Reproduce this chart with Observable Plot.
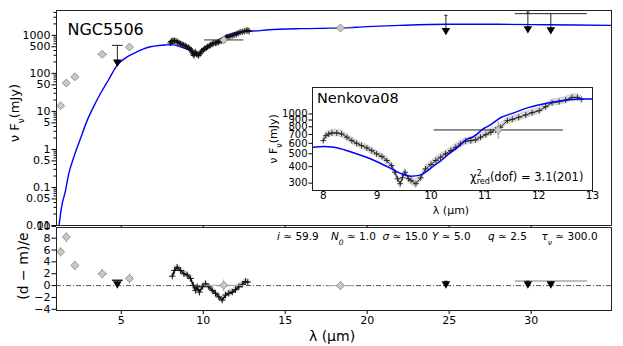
<!DOCTYPE html>
<html><head><meta charset="utf-8">
<script src="https://cdn.jsdelivr.net/npm/d3@7"></script>
<script src="https://cdn.jsdelivr.net/npm/@observablehq/plot@0.6"></script>
<style>
body{margin:0;background:#fff;}
#wrap{position:relative;width:623px;height:346px;font-family:"DejaVu Sans",sans-serif;overflow:hidden;}
</style></head><body><div id="wrap"></div>
<script>
// ---------- data ----------
const modelLam  = [1.18, 1.34, 1.6, 1.8, 2.11, 2.48, 2.93, 3.3, 3.74, 4.2, 4.76, 5.2, 5.77, 6.3, 6.79, 7.3, 7.8, 8.0, 8.2, 8.4, 8.71, 9.02, 9.27, 9.45, 9.63, 9.8, 9.9, 10.05, 10.15, 10.37, 10.46, 10.68, 10.77, 10.99, 11.08, 11.3, 11.51, 11.82, 12.13, 12.44, 12.75, 13.0, 14.0, 15.9, 18.4, 20, 22, 24.9, 28, 31, 34.9];
const modelFlux = [0.008, 0.0275, 0.083, 0.23, 0.63, 1.76, 5.9, 13, 30, 65, 165, 245, 336, 430, 500, 540, 560, 567, 560, 535, 485, 432, 385, 353, 339, 345, 363, 405, 432, 514, 545, 648, 667, 780, 816, 940, 1010, 1122, 1202, 1260, 1297, 1300, 1400, 1500, 1560, 1700, 1830, 1950, 1950, 1900, 1830];

const specLam  = [8.00, 8.05, 8.10, 8.16, 8.25, 8.34, 8.44, 8.53, 8.62, 8.71, 8.81, 8.90, 8.99, 9.09, 9.18, 9.27, 9.33, 9.38, 9.43, 9.47, 9.52, 9.58, 9.63, 9.72, 9.81, 9.90, 10.00, 10.09, 10.18, 10.27, 10.37, 10.46, 10.55, 10.64, 10.74, 10.83, 10.92, 11.02, 11.11, 11.20, 11.29, 11.42, 11.51, 11.63, 11.76, 11.88, 12.01, 12.13, 12.25, 12.38, 12.50, 12.62, 12.72, 12.80];
const specFlux = [629, 686, 705, 719, 719, 707, 667, 629, 600, 577, 554, 529, 500, 477, 445, 408, 363, 324, 297, 330, 363, 324, 314, 297, 329, 385, 415, 445, 471, 500, 529, 560, 594, 622, 629, 637, 667, 698, 727, 757, 793, 890, 911, 943, 983, 1023, 1059, 1135, 1217, 1238, 1275, 1334, 1334, 1288];
const specErr  = [42, 45, 46, 47, 47, 46, 44, 41, 39, 38, 36, 35, 33, 31, 29, 27, 26, 25, 25, 25, 26, 25, 24, 24, 25, 27, 29, 30, 31, 33, 35, 37, 39, 41, 41, 42, 44, 46, 48, 50, 52, 58, 59, 61, 64, 66, 69, 74, 79, 80, 83, 87, 87, 84];

const resLam = [8.11, 8.25, 8.41, 8.62, 8.82, 9.02, 9.23, 9.39, 9.53, 9.63, 9.77, 9.94, 10.14, 10.34, 10.55, 10.75, 10.95, 11.16, 11.36, 11.56, 11.77, 11.97, 12.17, 12.38, 12.58, 12.72];
const resVal = [1.6, 2.55, 3.1, 2.55, 2.0, 1.8, 1.2, 0.05, -0.8, -0.2, -1.1, -0.2, 0.3, -0.2, -0.8, -1.3, -1.9, -2.45, -1.6, -1.3, -1.1, -0.7, -0.2, 0.2, 0.7, 0.6];
const resErr = [0.6, 0.6, 0.6, 0.6, 0.6, 0.6, 0.6, 0.6, 0.6, 0.6, 0.6, 0.6, 0.6, 0.6, 0.6, 0.6, 0.6, 0.6, 0.6, 0.6, 0.6, 0.6, 0.6, 0.6, 0.6, 0.6];

const photLam  = [1.30, 1.65, 2.17, 3.84, 5.50, 11.25, 18.37];
const photFlux = [14.1, 55.7, 81, 316, 492, 757, 1556];
const photXerr = [0.05, 0.08, 0.1, 0.3, 0.1, 1.2, 0.8];
const photYlo  = [13, 52, 76, 300, 390, 648, 1480];
const photYhi  = [15.3, 60, 86, 335, 620, 880, 1640];
const photRes    = [5.7, 8.2, 3.4, 2.0, 1.2, 0.05, 0.0];
const photResErr = [0.8, 0.9, 0.8, 0.8, 0.9, 1.0, 0.8];

const ulLam    = [4.76, 24.8, 29.8, 31.2];
const ulTop    = [545, 3360, 4110, 3720];
const ulTip    = [200, 1350, 1500, 1412];
const ulXerr   = [0.33, 0.1, 0.1, 2.2];
const ulResTop = [0.9, 0.7, 0.8, 0.77];
const ulResTip = [0.0, 0.0, 0.0, 0.0];

const mainYTicks = [0.01, 0.05, 0.1, 0.5, 1, 5, 10, 50, 100, 500, 1000];
const xTicks = [5, 10, 15, 20, 25, 30];
const resYTicks = [-4, -2, 0, 2, 4, 6, 8, 10];
const insetYTicks = [300, 400, 500, 600, 700, 800, 900, 1000];
const insetXTicks = [8, 9, 10, 11, 12, 13];

// ---------- tables ----------
const model = modelLam.map((x, i) => ({x, y: modelFlux[i]}));
const spec = specLam.map((x, i) => ({x, y: specFlux[i], e: specErr[i]}));
const res = resLam.map((x, i) => ({x, y: resVal[i], e: resErr[i]}));
const phot = photLam.map((x, i) => ({x, y: photFlux[i], xe: photXerr[i], lo: photYlo[i], hi: photYhi[i], r: photRes[i], re: photResErr[i]}));
const ul = ulLam.map((x, i) => ({x, top: ulTop[i], tip: ulTip[i], xe: ulXerr[i], rt: ulResTop[i], rtip: ulResTip[i]}));
const minorY = [];
for (let d = 0.01; d <= 1000; d *= 10) for (let k = 2; k <= 9; k++) if (k !== 5 && d * k < 4500) minorY.push(+(d * k).toPrecision(3));

const FONT = "DejaVu Sans, sans-serif";
const wrap = document.getElementById("wrap");
const sty = (l, t, fs) => ({position: "absolute", left: l + "px", top: t + "px", fontFamily: FONT, fontSize: fs + "px", background: "none", overflow: "visible", color: "#000"});
const fmt = d => d < 0 ? "\u2212" + (-d) : String(d);
const BLUE = "#0000ff";

// ---------- main panel ----------
const main = Plot.plot({
  width: 623, height: 230,
  marginLeft: 56, marginRight: 12, marginTop: 10, marginBottom: 5,
  style: sty(0, 0, 11),
  x: {domain: [1.05, 34.9]},
  y: {type: "log", domain: [0.01, 4500]},
  marks: [
    Plot.axisY({ticks: minorY, tickSize: 2.5, tickFormat: () => "", label: null}),
    Plot.axisY({ticks: mainYTicks, tickSize: 4.5, tickFormat: () => "", label: null}),
    Plot.text(mainYTicks, {y: d => d, text: fmt, frameAnchor: "left", textAnchor: "end", dx: -6, fontSize: 11}),
    Plot.axisX({ticks: xTicks, tickSize: 3, tickFormat: () => "", label: null}),
    Plot.areaY(spec, {x: "x", y1: d => d.y - d.e, y2: d => d.y + d.e, fill: "#d0d0d0"}),
    Plot.line(model, {x: "x", y: "y", stroke: BLUE, strokeWidth: 1.4, curve: "monotone-x", clip: true}),
    Plot.line(spec, {x: "x", y: "y", stroke: "#111", strokeWidth: 2.2}),
    Plot.dot(spec, {x: "x", y: "y", symbol: "plus", r: 2.2, stroke: "#111", strokeWidth: 1}),
    Plot.link(phot, {x1: d => d.x - d.xe, x2: d => d.x + d.xe, y1: "y", y2: "y", stroke: d => d.xe > 1 ? "#333" : "#999", strokeWidth: 1}),
    Plot.link(phot, {x1: "x", x2: "x", y1: "lo", y2: "hi", stroke: "#999", strokeWidth: 1}),
    Plot.dot(phot, {x: "x", y: "y", symbol: "diamond2", r: 3.6, fill: "#c8c8c8", stroke: "#808080", strokeWidth: 0.8}),
    Plot.link(ul, {x1: "x", x2: "x", y1: "top", y2: "tip", stroke: "#222", strokeWidth: 1}),
    Plot.link(ul, {x1: d => d.x - d.xe, x2: d => d.x + d.xe, y1: "top", y2: "top", stroke: "#222", strokeWidth: 1}),
    Plot.dot(ul, {x: "x", y: "tip", symbol: "triangle", rotate: 180, r: 3.2, fill: "#000", stroke: "none"}),
    Plot.frame({stroke: "#222"})
  ]
});
wrap.appendChild(main);

// ---------- residual panel ----------
const resid = Plot.plot({
  width: 623, height: 126,
  marginLeft: 56, marginRight: 12, marginTop: 7, marginBottom: 36,
  style: sty(0, 220, 11),
  x: {domain: [1.05, 34.9]},
  y: {domain: [-4.2, 9.8]},
  marks: [
    Plot.axisY({ticks: resYTicks, tickSize: 4.5, tickPadding: 1.5, tickFormat: fmt, label: null}),
    Plot.axisX({ticks: xTicks, tickSize: 4, tickPadding: 2, tickFormat: fmt, label: null}),
    Plot.ruleY([0], {stroke: "#222", strokeWidth: 0.8, strokeDasharray: "5,2,1,2"}),
    Plot.areaY(res, {x: "x", y1: d => d.y - d.e, y2: d => d.y + d.e, fill: "#dcdcdc"}),
    Plot.line(res, {x: "x", y: "y", stroke: "#111", strokeWidth: 1.6}),
    Plot.dot(res, {x: "x", y: "y", symbol: "plus", r: 2.2, stroke: "#111", strokeWidth: 1}),
    Plot.link(phot, {x1: d => d.x - d.xe, x2: d => d.x + d.xe, y1: "r", y2: "r", stroke: "#aaa", strokeWidth: 1}),
    Plot.link(phot, {x1: "x", x2: "x", y1: d => d.r - d.re, y2: d => d.r + d.re, stroke: "#aaa", strokeWidth: 1}),
    Plot.dot(phot, {x: "x", y: "r", symbol: "diamond2", r: 3.6, fill: "#c8c8c8", stroke: "#808080", strokeWidth: 0.8}),
    Plot.link(ul, {x1: d => d.x - d.xe, x2: d => d.x + d.xe, y1: "rt", y2: "rt", stroke: d => d.xe > 1 ? "#aaa" : "#222", strokeWidth: 1.5}),
    Plot.link(ul, {x1: "x", x2: "x", y1: "rt", y2: "rtip", stroke: "#222", strokeWidth: 1}),
    Plot.dot(ul, {x: "x", y: d => d.rtip + 0.3, symbol: "triangle", rotate: 180, r: 3.2, fill: "#000", stroke: "none"}),
    Plot.frame({stroke: "#222"})
  ]
});
wrap.appendChild(resid);

// ---------- inset ----------
const inset = Plot.plot({
  width: 350, height: 140,
  marginLeft: 62, marginRight: 8, marginTop: 7, marginBottom: 30,
  style: sty(250, 80, 10),
  x: {domain: [7.8, 13]},
  y: {type: "log", domain: [264, 1585]},
  marks: [
    Plot.frame({fill: "white", stroke: null}),
    Plot.axisY({ticks: insetYTicks, tickSize: 3.5, tickFormat: () => "", label: null}),
    Plot.text(insetYTicks, {y: d => d, text: fmt, frameAnchor: "left", textAnchor: "end", dx: -5, fontSize: 10}),
    Plot.axisX({ticks: insetXTicks, tickSize: 2, tickPadding: -1, tickFormat: fmt, label: null, fontSize: 10.5}),
    Plot.areaY(spec, {x: "x", y1: d => d.y - d.e, y2: d => d.y + d.e, fill: "#d8d8d8"}),
    Plot.line(spec, {x: "x", y: "y", stroke: "#222", strokeWidth: 1}),
    Plot.dot(spec, {x: "x", y: "y", symbol: "plus", r: 2, stroke: "#222", strokeWidth: 0.9}),
    Plot.line(model, {x: "x", y: "y", stroke: BLUE, strokeWidth: 1.5, curve: "monotone-x", clip: true}),
    Plot.link(phot, {x1: d => d.x - d.xe, x2: d => d.x + d.xe, y1: "y", y2: "y", stroke: "#222", strokeWidth: 1, clip: true}),
    Plot.link(phot, {x1: "x", x2: "x", y1: "lo", y2: "hi", stroke: "#999", strokeWidth: 1, clip: true}),
    Plot.dot(phot, {x: "x", y: "y", symbol: "diamond2", r: 3.6, fill: "#c8c8c8", stroke: "#808080", strokeWidth: 0.8, clip: true}),
    Plot.frame({stroke: "#222"})
  ]
});
wrap.appendChild(inset);

// ---------- text annotations ----------
const ov = d3.create("svg").attr("width", 623).attr("height", 346)
  .style("position", "absolute").style("left", "0px").style("top", "0px")
  .attr("font-family", FONT).attr("fill", "#000");

function txt(x, y, size, anchor, rot) {
  const t = ov.append("text").attr("font-size", size).attr("text-anchor", anchor || "start");
  if (rot) t.attr("transform", `translate(${x},${y}) rotate(${rot})`);
  else t.attr("x", x).attr("y", y);
  return t;
}
function sub(t, s, size, italic) {
  const sp = t.append("tspan").attr("baseline-shift", "sub").attr("font-size", size).text(s);
  if (italic) sp.attr("font-style", "italic");
  return sp;
}

txt(67.5, 35, 16).text("NGC5506");
txt(317, 102.5, 14.5).text("Nenkova08");

// chi2
{
  const t = txt(470, 181, 11.5);
  t.append("tspan").text("\u03c7");
  t.append("tspan").attr("dy", -5).attr("font-size", 8).text("2");
  t.append("tspan").attr("dx", -5).attr("dy", 8).attr("font-size", 8).text("red");
  t.append("tspan").attr("dy", -3).text("(dof) = 3.1(201)");
}

// main y label
{
  const t = txt(19, 113, 13, "middle", -90);
  t.append("tspan").text("\u03bd F");
  sub(t, "\u03bd", 9);
  t.append("tspan").text("(mJy)");
}
// inset y label
{
  const t = txt(277, 139, 11, "middle", -90);
  t.append("tspan").text("\u03bd F");
  sub(t, "\u03bd", 8);
  t.append("tspan").text("(mJy)");
}
// residual y label
txt(28, 266, 14, "middle", -90).text("(d \u2212 m)/e");

// x labels
txt(332, 341, 14, "middle").text("\u03bb (\u00b5m)");
txt(451, 214, 11, "middle").text("\u03bb (\u00b5m)");

// parameters
{
  const Y = 240, S = 10.5, SS = 7.5;
  let t = txt(277, Y, S); t.append("tspan").attr("font-style", "italic").text("i"); t.append("tspan").text(" \u2243 59.9");
  t = txt(331, Y, S); t.append("tspan").attr("font-style", "italic").text("N"); sub(t, "0", SS, true); t.append("tspan").text(" \u2243 1.0");
  t = txt(382.5, Y, S); t.append("tspan").attr("font-style", "italic").text("\u03c3"); t.append("tspan").text(" \u2243 15.0");
  t = txt(432, Y, S); t.append("tspan").attr("font-style", "italic").text("Y"); t.append("tspan").text(" \u2243 5.0");
  t = txt(488, Y, S); t.append("tspan").attr("font-style", "italic").text("q"); t.append("tspan").text(" \u2243 2.5");
  t = txt(541.5, Y, S); t.append("tspan").attr("font-style", "italic").text("\u03c4"); sub(t, "\u03bd", SS, true); t.append("tspan").text(" \u2243 300.0");
}
wrap.appendChild(ov.node());
</script>
</body></html>
